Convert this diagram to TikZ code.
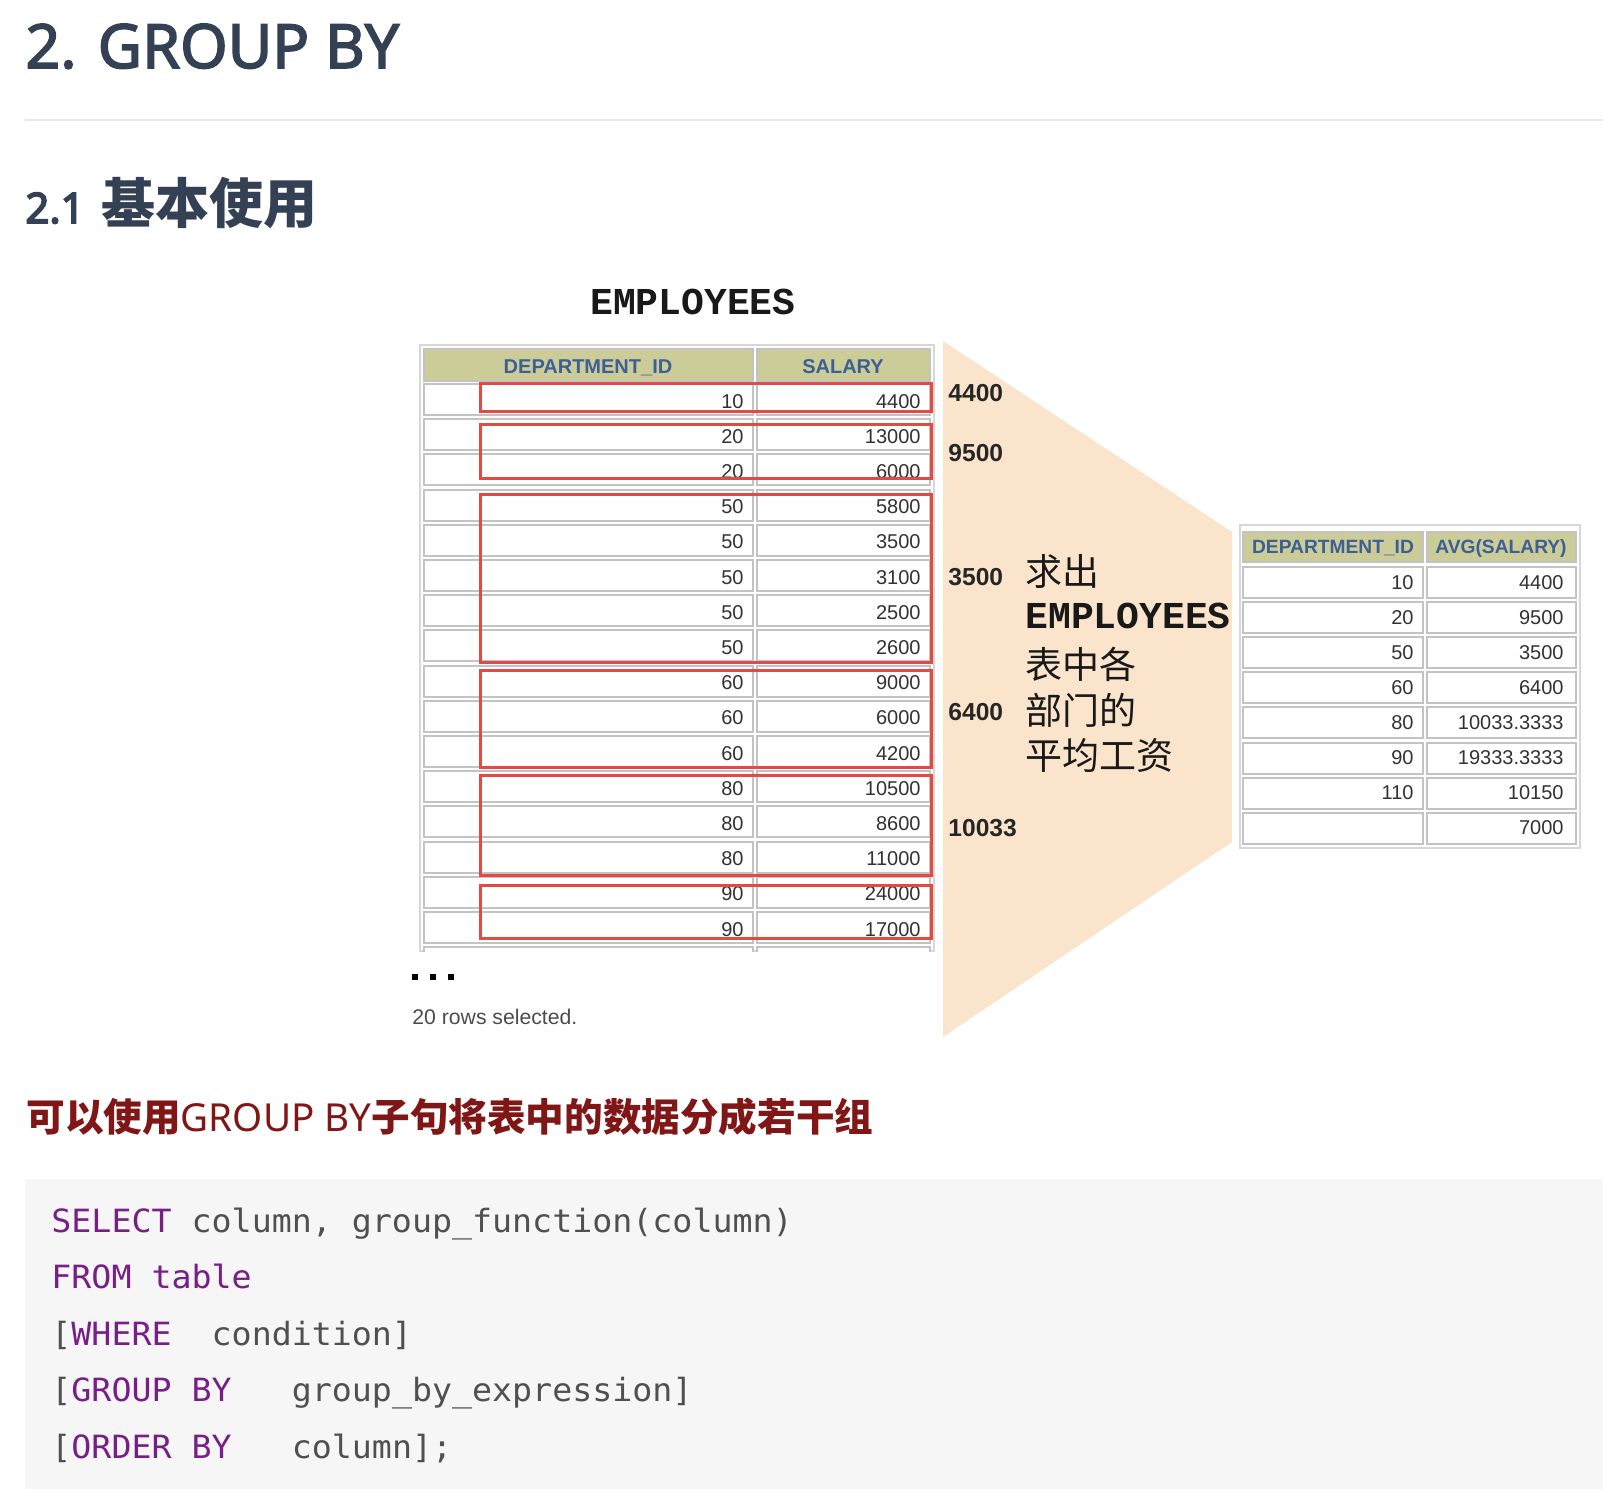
\documentclass[tikz,border=0pt]{standalone}
\usepackage{fontspec}
\setmainfont{Liberation Sans}
\newfontfamily\titlefont{Noto Sans}
\newfontfamily\titlefontb[FakeBold=2.6]{Noto Sans}
\newfontfamily\subfontb[FakeBold=4]{Noto Sans}
\newfontfamily\cjk{Noto Sans CJK SC}
\newfontfamily\codefont[FakeStretch=1.04]{DejaVu Sans Mono}
\newfontfamily\courfont{Liberation Mono}
\definecolor{titlecol}{RGB}{52,64,84}
\definecolor{rulecol}{RGB}{232,232,232}
\definecolor{khaki}{RGB}{204,204,153}
\definecolor{hdrblue}{RGB}{60,95,150}
\definecolor{cellgray}{RGB}{195,195,195}
\definecolor{framegray}{RGB}{215,215,215}
\definecolor{numgray}{RGB}{50,50,50}
\definecolor{redline}{RGB}{225,75,65}
\definecolor{tan}{RGB}{250,229,204}
\definecolor{darkred}{RGB}{128,22,22}
\definecolor{codebg}{RGB}{246,246,246}
\definecolor{kwpurple}{RGB}{119,30,136}
\definecolor{codegray}{RGB}{80,80,80}
\tikzset{
  cellbox/.style={draw=cellgray, line width=1pt, fill=white},
  hdrbox/.style={draw=cellgray, line width=1pt, fill=khaki},
  framebox/.style={draw=framegray, line width=0.6pt},
  num/.style={font=\fontsize{10}{12}\selectfont, text=numgray, anchor=base east, inner sep=0pt},
  hdr/.style={font=\fontsize{10}{12}\selectfont\bfseries, text=hdrblue, anchor=base, inner sep=0pt},
  redgrp/.style={draw=redline, line width=1.5pt},
  sumnum/.style={font=\fontsize{12.3}{14}\selectfont\bfseries, text=black!85, anchor=west, inner sep=0pt},
  cjktext/.style={font=\cjk\fontsize{18.5}{20}\selectfont, text=black!90, anchor=west, inner sep=0pt},
  courtext/.style={font=\courfont\bfseries\fontsize{19}{20}\selectfont, text=black!90, inner sep=0pt},
  codeline/.style={font=\codefont\fontsize{16}{18}\selectfont, text=codegray, anchor=base west, inner sep=0pt},
  dotsq/.style={fill=black},
}
\begin{document}
\begin{tikzpicture}[x=0.5pt,y=-0.5pt]
\useasboundingbox (0,0) rectangle (1603,1489);
\fill[white] (0,0) rectangle (1603,1489);

% headings
\node[font=\titlefontb\fontsize{30.5}{34}\selectfont, text=titlecol, anchor=base west, inner sep=0pt] (title) at (25,68) {2. GROUP BY};
\draw[rulecol, line width=1pt] (25,120) -- (1603,120);
\node[text=titlecol, anchor=base west, inner sep=0pt] (sub) at (25,223)
  {{\subfontb\fontsize{21}{24}\selectfont 2.1}\hspace{8.5pt}{\cjk\bfseries\fontsize{27}{30}\selectfont 基本使用}};

% EMPLOYEES label
\node[courtext] (emp) at (693,302) {EMPLOYEES};

% tan funnel
\fill[tan] (943,341) -- (1232,532) -- (1232,842) -- (943,1037) -- cycle;

% left table
\draw[framebox] (420,345) rectangle (934,951);
\draw[hdrbox] (424,349) rectangle (753,381);
\draw[hdrbox] (757,349) rectangle (930,381);
\node[hdr] (lh1) at (588,373) {DEPARTMENT\_ID};
\node[hdr] (lh2) at (843,373) {SALARY};
\begin{scope}
\clip (419,344) rectangle (935,951);
\foreach \d/\s [count=\k from 0] in {10/4400,20/13000,20/6000,50/5800,50/3500,50/3100,50/2500,50/2600,60/9000,60/6000,60/4200,80/10500,80/8600,80/11000,90/24000,90/17000}{
  \pgfmathsetmacro\t{384+35.2*\k}
  \draw[cellbox] (424,\t) rectangle (753,\t+31);
  \draw[cellbox] (757,\t) rectangle (930,\t+31);
  \node[num] (ld\k) at (744,\t+24) {\d};
  \node[num] (ls\k) at (921,\t+24) {\s};
}
\draw[cellbox] (424,947.2) rectangle (753,980);
\draw[cellbox] (757,947.2) rectangle (930,980);
\end{scope}
% red group boxes
\draw[redgrp] (480,383) rectangle (931,411);
\draw[redgrp] (480,424) rectangle (931,478);
\draw[redgrp] (480,494) rectangle (931,662);
\draw[redgrp] (480,670) rectangle (931,767);
\draw[redgrp] (480,775) rectangle (931,875);
\draw[redgrp] (480,885) rectangle (931,938);

% ellipsis and footer
\fill[dotsq] (412,974) rectangle (418,980);
\fill[dotsq] (430,974) rectangle (436,980);
\fill[dotsq] (448,974) rectangle (454,980);
\node[font=\fontsize{10.6}{12}\selectfont, text=black!70, anchor=west, inner sep=0pt] (rows) at (412,1017) {20 rows selected.};

% funnel labels
\node[sumnum] (v1) at (948,393.5) {4400};
\node[sumnum] (v2) at (948,453) {9500};
\node[sumnum] (v3) at (948,577) {3500};
\node[sumnum] (v4) at (948,712) {6400};
\node[sumnum] (v5) at (948,828) {10033};
\node[cjktext] (c1) at (1025,571) {求出};
\node[courtext, anchor=west] (c2) at (1025,616) {EMPLOYEES};
\node[cjktext] (c3) at (1025,664) {表中各};
\node[cjktext] (c4) at (1025,710) {部门的};
\node[cjktext] (c5) at (1025,755) {平均工资};

% right table
\draw[framebox] (1240,525) rectangle (1580,848);
\draw[hdrbox] (1243,532) rectangle (1423,562);
\draw[hdrbox] (1427,532) rectangle (1576,562);
\node[hdr, font=\fontsize{9.6}{12}\selectfont\bfseries] (rh1) at (1333,553) {DEPARTMENT\_ID};
\node[hdr, font=\fontsize{9.6}{12}\selectfont\bfseries] (rh2) at (1501,553) {AVG(SALARY)};
\foreach \d/\s [count=\k from 0] in {10/4400,20/9500,50/3500,60/6400,80/10033.3333,90/19333.3333,110/10150,{}/7000}{
  \pgfmathsetmacro\t{567+35.1*\k}
  \draw[cellbox] (1243,\t) rectangle (1423,\t+31);
  \draw[cellbox] (1427,\t) rectangle (1576,\t+31);
  \node[num] (rd\k) at (1414,\t+22) {\d};
  \node[num] (rs\k) at (1564,\t+22) {\s};
}

% red sub-heading
\node[font=\cjk\bfseries\fontsize{19.3}{22}\selectfont, text=darkred, anchor=west, inner sep=0pt] (note) at (26,1117)
  {可以使用{\titlefont\mdseries GROUP BY}子句将表中的数据分成若干组};

% code block
\fill[codebg] (25,1179) rectangle (1603,1489);
\node[codeline] (q1) at (51,1232) {\textcolor{kwpurple}{SELECT} column, group\_function(column)};
\node[codeline] (q2) at (51,1288.5) {\textcolor{kwpurple}{FROM table}};
\node[codeline] (q3) at (51,1345) {[\textcolor{kwpurple}{WHERE}~~condition]};
\node[codeline] (q4) at (51,1401.5) {[\textcolor{kwpurple}{GROUP~BY}~~~group\_by\_expression]};
\node[codeline] (q5) at (51,1458) {[\textcolor{kwpurple}{ORDER~BY}~~~column];};
\end{tikzpicture}
\end{document}
